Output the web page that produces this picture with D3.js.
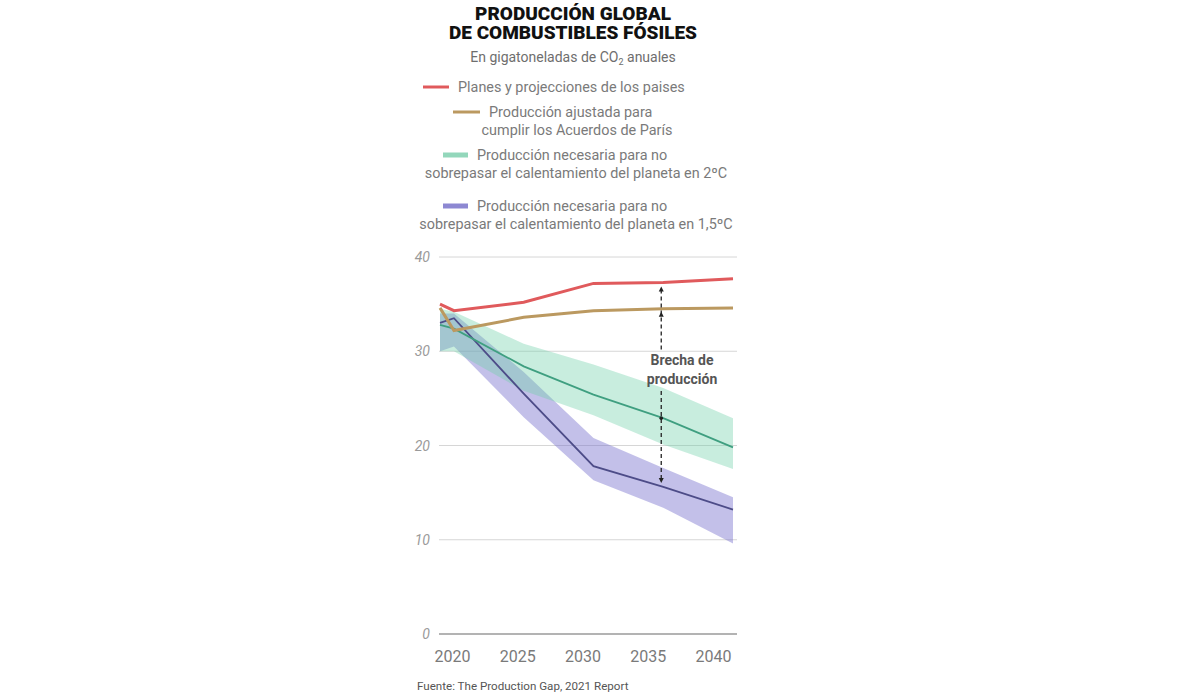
<!DOCTYPE html>
<html><head><meta charset="utf-8">
<script src="https://cdn.jsdelivr.net/npm/d3@7"></script>
<style>
html,body{margin:0;padding:0;background:#fff;}
svg text{font-family:Roboto,"Noto Sans",sans-serif;}
</style></head>
<body><svg id="c" width="1200" height="697"></svg>
<script>
// ---- data ----
const years = [2019, 2020, 2025, 2030, 2035, 2040];
const planes = [35.0, 34.3, 35.2, 37.2, 37.3, 37.7];
const paris = [34.6, 32.2, 33.6, 34.3, 34.5, 34.6];
const c2 = [32.8, 32.4, 28.4, 25.4, 22.9, 19.8];
const c2Upper = [34.5, 34.2, 30.8, 28.6, 26.1, 22.9];
const c2Lower = [30.0, 30.0, 25.8, 23.2, 20.1, 17.5];
const c15 = [33.0, 33.5, 25.5, 17.8, 15.6, 13.2];
const c15Upper = [34.0, 34.0, 27.8, 20.8, 17.6, 14.5];
const c15Lower = [30.0, 30.5, 23.0, 16.3, 13.4, 9.6];
const yTicks = [0, 10, 20, 30, 40];
const xTicks = [2020, 2025, 2030, 2035, 2040];
const gapYear = 2035;
const titleLines = ["PRODUCCIÓN GLOBAL", "DE COMBUSTIBLES FÓSILES"];
const legendItems = [
  {key: "planes", lines: ["Planes y projecciones de los paises"]},
  {key: "paris", lines: ["Producción ajustada para", "cumplir los Acuerdos de París"]},
  {key: "c2", lines: ["Producción necesaria para no", "sobrepasar el calentamiento del planeta en 2ºC"]},
  {key: "c15", lines: ["Producción necesaria para no", "sobrepasar el calentamiento del planeta en 1,5ºC"]}
];
const gapLabel = ["Brecha de", "producción"];
const source = "Fuente: The Production Gap, 2021 Report";

// ---- styles ----
const col = {planes:"#e05a5c", paris:"#bb9960", c2Line:"#3f9f80", c2Band:"#6fcfa8", c15Line:"#4d4c88", c15Band:"#7a74cf"};

const svg = d3.select("#c");
const x = d3.scaleLinear().domain([2019, 2040]).range([440, 733]);
const xLab = d3.scaleLinear().domain([2020, 2040]).range([452, 713]);
const y = d3.scaleLinear().domain([0, 40]).range([634, 257]);

// title
svg.selectAll(".title").data(titleLines).join("text")
  .attr("x", 573).attr("y", (d,i)=>20 + i*19)
  .attr("text-anchor","middle").attr("font-size",18.5).attr("font-weight",900)
  .attr("fill","#111").attr("textLength",(d,i)=>i===0?196:248).attr("lengthAdjust","spacingAndGlyphs")
  .text(d=>d);

const sub = svg.append("text").attr("x",573).attr("y",62).attr("text-anchor","middle")
  .attr("font-size",14).attr("fill","#6e6e6e");
sub.append("tspan").text("En gigatoneladas de CO");
sub.append("tspan").attr("font-size",9).attr("dy",3).text("2");
sub.append("tspan").attr("dy",-3).text(" anuales");

// legend
const legY = [92, 117, 160, 211];
const swatch = {
  planes:{x1:423,x2:449,c:col.planes,w:3},
  paris:{x1:453,x2:480,c:col.paris,w:3},
  c2:{x1:443,x2:468,c:"#93d7bb",w:5},
  c15:{x1:443,x2:468,c:"#8d88d2",w:5}
};
const textX = {planes:[577], paris:[577,577], c2:[577,576], c15:[577,576]};
legendItems.forEach((it, i) => {
  const s = swatch[it.key];
  svg.append("line").attr("x1",s.x1).attr("x2",s.x2).attr("y1",legY[i]-5).attr("y2",legY[i]-5)
    .attr("stroke",s.c).attr("stroke-width",s.w);
  it.lines.forEach((l, j) => {
    const t = svg.append("text").attr("y", legY[i] + j*18).attr("font-size",14.4).attr("fill","#7a7a7a").text(l);
    if (j === 0) t.attr("x", s.x2 + 9);
    else t.attr("x", textX[it.key][j]).attr("text-anchor","middle");
  });
});

// grid
svg.append("g").selectAll("line").data(yTicks).join("line")
  .attr("x1",439).attr("x2",737).attr("y1",d=>y(d)).attr("y2",d=>y(d))
  .attr("stroke",d=>d===0?"#9a9a9a":"#d6d6d6").attr("stroke-width",d=>d===0?1.5:1);
svg.append("g").selectAll("text").data(yTicks).join("text")
  .attr("x",430).attr("y",d=>y(d)+5).attr("text-anchor","end")
  .attr("font-size",14).attr("font-style","italic").attr("fill","#9a9a9a").text(d=>d);

// x axis
const xAxis = svg.append("g").attr("transform","translate(0,648)")
  .call(d3.axisBottom(xLab).tickValues(xTicks).tickSize(0).tickFormat(d3.format("d")));
xAxis.select(".domain").remove();
xAxis.selectAll("text").attr("font-size",16).attr("fill","#7a7a7a").attr("font-family","Roboto,sans-serif");

// bands
const band = (up, lo) => d3.area().x((d,i)=>x(years[i])).y0((d,i)=>y(lo[i])).y1((d,i)=>y(up[i]))(years);
svg.append("path").attr("d", band(c15Upper, c15Lower)).attr("fill", col.c15Band).attr("fill-opacity",0.45);
svg.append("path").attr("d", band(c2Upper, c2Lower)).attr("fill", col.c2Band).attr("fill-opacity",0.38);

const line = vals => d3.line().x((d,i)=>x(years[i])).y((d,i)=>y(vals[i]))(years);
svg.append("path").attr("d", line(c15)).attr("fill","none").attr("stroke",col.c15Line).attr("stroke-width",1.8);
svg.append("path").attr("d", line(c2)).attr("fill","none").attr("stroke",col.c2Line).attr("stroke-width",1.8);
svg.append("path").attr("d", line(paris)).attr("fill","none").attr("stroke",col.paris).attr("stroke-width",3);
svg.append("path").attr("d", line(planes)).attr("fill","none").attr("stroke",col.planes).attr("stroke-width",3);

// gap annotation
const gi = years.indexOf(gapYear);
const gx = x(gapYear) - 2;
const yTop = y(planes[gi]) + 4, yBot = y(c15[gi]) - 4;
const ann = svg.append("g").attr("stroke","#222").attr("stroke-width",1.3).attr("stroke-dasharray","4,3");
ann.append("line").attr("x1",gx).attr("x2",gx).attr("y1",yTop+3).attr("y2",352);
ann.append("line").attr("x1",gx).attr("x2",gx).attr("y1",391).attr("y2",yBot-3);
const head = (yy, dir) => svg.append("path")
  .attr("d", `M${gx},${yy} L${gx-2.5},${yy+dir*5} L${gx+2.5},${yy+dir*5} Z`).attr("fill","#222");
head(yTop, 1);
head(y(paris[gi]) + 3, 1);
head(yBot, -1);
svg.append("circle").attr("cx",gx).attr("cy",y(c2[gi])).attr("r",1.8).attr("fill","#222");
svg.selectAll(".gap").data(gapLabel).join("text")
  .attr("x",682).attr("y",(d,i)=>365 + i*19).attr("text-anchor","middle")
  .attr("font-size",14).attr("font-weight",700).attr("fill","#555").text(d=>d);

// source
svg.append("text").attr("x",417).attr("y",690).attr("font-size",11.6).attr("fill","#555").text(source);
</script></body></html>
